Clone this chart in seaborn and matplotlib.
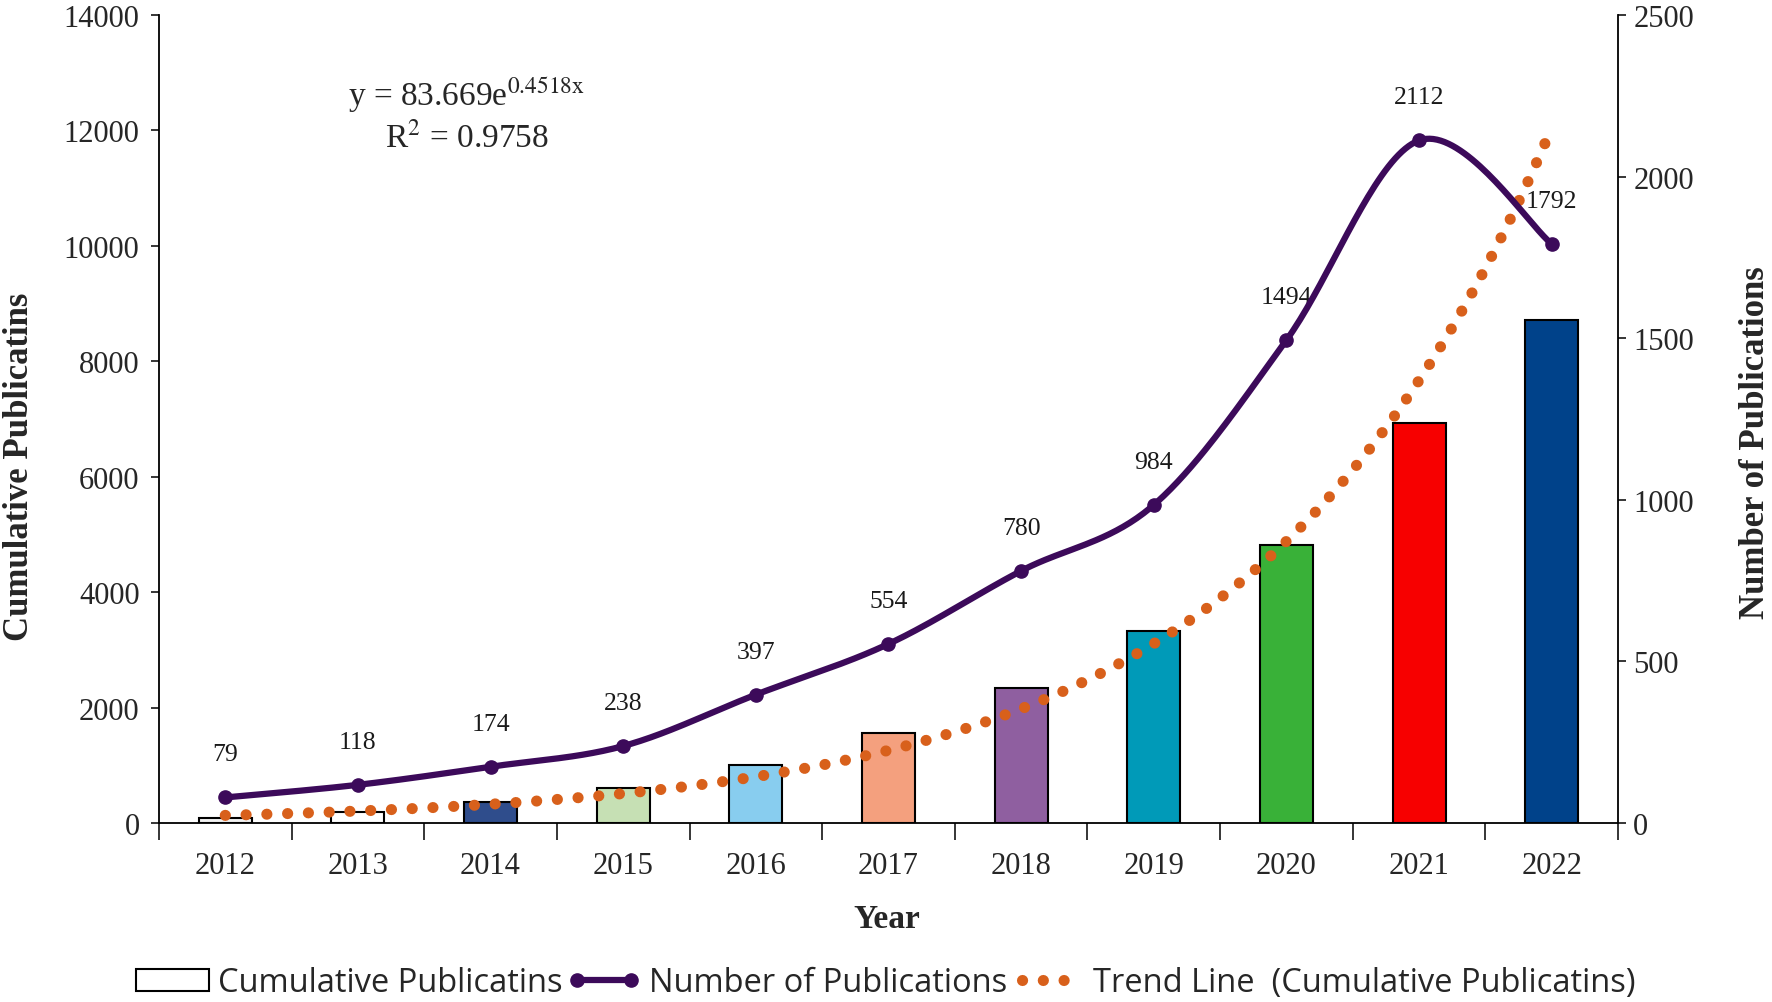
import numpy as np
import pandas as pd
import matplotlib
matplotlib.use('Agg')
import matplotlib.pyplot as plt
import seaborn as sns
from matplotlib.lines import Line2D
from matplotlib.patches import Patch

# ---------------- data ----------------
years = ['2012', '2013', '2014', '2015', '2016', '2017', '2018', '2019', '2020', '2021', '2022']
publications = [79, 118, 174, 238, 397, 554, 780, 984, 1494, 2112, 1792]
cumulative = [int(v) for v in np.cumsum(publications)]
bar_colors = ['#F2F2F2', '#FFFFFF', '#2F4D8C', '#C6E0B4', '#88CDEF', '#F4A07E',
              '#8F5FA0', '#009AB8', '#39B138', '#F70000', '#00428A']
trend_a = 83.669
trend_b = 0.4518
r_squared = 0.9758
left_ticks = [0, 2000, 4000, 6000, 8000, 10000, 12000, 14000]
right_ticks = [0, 500, 1000, 1500, 2000, 2500]

purple = '#3C0A5A'
orange = '#D8601B'

sns.set_style('white')
plt.rcParams['font.family'] = ['Liberation Serif', 'DejaVu Serif']
plt.rcParams['mathtext.fontset'] = 'stix'

fig = plt.figure(figsize=(17.72, 10.03), dpi=100)
ax = fig.add_axes([0.0897, 0.1785, 0.8234, 0.8055])

df = pd.DataFrame({'Year': years, 'Cumulative': cumulative, 'Publications': publications})
sns.barplot(data=df, x='Year', y='Cumulative', hue='Year', palette=bar_colors,
            legend=False, width=0.4, edgecolor='black', linewidth=1.5,
            saturation=1, ax=ax, zorder=2)

# trend line from the fitted equation shown in the chart
pos = np.arange(len(years))
xs = np.linspace(pos[0], pos[-1], 400)
ax.plot(xs, trend_a * np.exp(trend_b * (xs + 1)), color=orange, lw=8,
        linestyle=(0, (0.01, 1.86)), dash_capstyle='round', zorder=3)

ax.set_xlim(-0.5, len(years) - 0.5)
ax.set_ylim(0, 14000)
ax.set_yticks(left_ticks)
ax.set_xticks(pos)
ax.set_xticklabels(years)
ax.set_xticks(np.arange(-0.5, len(years), 1.0), minor=True)
ax.tick_params(axis='x', which='major', length=0, pad=20, labelsize=22)
ax.tick_params(axis='x', which='minor', bottom=True, direction='out', length=12, width=1.3)
ax.tick_params(axis='y', left=True, direction='out', length=6, width=1.3, labelsize=22, pad=8)
for s in ['top', 'right']:
    ax.spines[s].set_visible(False)
for s in ['left', 'bottom']:
    ax.spines[s].set_color('black')
    ax.spines[s].set_linewidth(1.3)

ax.set_xlabel('Year', fontsize=24, fontweight='bold')
ax.xaxis.set_label_coords(0.499, -0.099)
ax.set_ylabel('Cumulative Publicatins', fontsize=25, fontweight='bold')
ax.yaxis.set_label_coords(-0.084, 0.442)

# equation
ax.text(0.211, 0.901, r'y = 83.669e$^{\mathrm{0.4518x}}$', transform=ax.transAxes,
        ha='center', va='center', fontsize=24)
ax.text(0.211, 0.849, r'R$^{2}$ = ' + f'{r_squared}', transform=ax.transAxes,
        ha='center', va='center', fontsize=24)

# secondary axis: number of publications, smoothed line
ax2 = ax.twinx()
P = np.column_stack([pos.astype(float), np.array(publications, dtype=float)])
curve = []
n = len(P)
for i in range(n - 1):
    p0 = P[i - 1] if i > 0 else P[i]
    p1 = P[i]
    p2 = P[i + 1]
    p3 = P[i + 2] if i + 2 < n else P[i + 1]
    c1 = p1 + (p2 - p0) / 6.0
    c2 = p2 - (p3 - p1) / 6.0
    t = np.linspace(0, 1, 40)[:, None]
    seg = ((1 - t) ** 3) * p1 + 3 * ((1 - t) ** 2) * t * c1 + 3 * (1 - t) * t ** 2 * c2 + t ** 3 * p2
    curve.append(seg if i == 0 else seg[1:])
curve = np.vstack(curve)
ax2.plot(curve[:, 0], curve[:, 1], color=purple, lw=4.5, solid_capstyle='round', zorder=4)
ax2.plot(pos, publications, 'o', color=purple, ms=9.5, zorder=5)
for i, v in enumerate(publications):
    ax2.annotate(str(v), (pos[i], v), xytext=(0, 31), textcoords='offset points',
                 ha='center', va='center', fontsize=18.5, color='#1a1a1a')

ax2.set_ylim(0, 2500)
ax2.set_yticks(right_ticks)
ax2.tick_params(axis='y', right=True, direction='out', length=6, width=1.3, labelsize=22, pad=5)
for s in ['top', 'left', 'bottom']:
    ax2.spines[s].set_visible(False)
ax2.spines['right'].set_color('black')
ax2.spines['right'].set_linewidth(1.3)
ax2.set_ylabel('Number of Publications', fontsize=25, fontweight='bold')
ax2.yaxis.set_label_coords(1.083, 0.472)
ax2.set_xlim(-0.5, len(years) - 0.5)

# legend
handles = [
    Patch(facecolor='white', edgecolor='black', linewidth=1.5),
    Line2D([], [], color=purple, lw=4.5, marker='o', ms=9.5),
    Line2D([], [], color=orange, lw=8, linestyle=(0, (0.01, 1.86)), dash_capstyle='round'),
]
labels = ['Cumulative Publicatins', 'Number of Publications', 'Trend Line  (Cumulative Publicatins)']
fig.legend(handles, labels, loc='center', bbox_to_anchor=(0.5, 0.019), ncol=3,
           frameon=False, numpoints=2, handlelength=2.25, handletextpad=0.25,
           columnspacing=0.15, prop={'family': ['Open Sans', 'DejaVu Sans'], 'size': 23.5})

fig.savefig('out.png', dpi=100)
